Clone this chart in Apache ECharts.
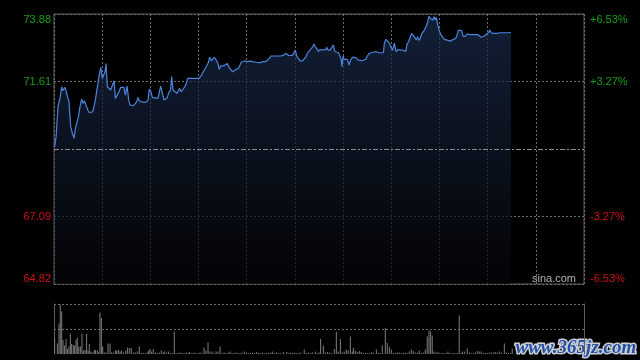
<!DOCTYPE html>
<html><head><meta charset="utf-8">
<script src="https://cdn.jsdelivr.net/npm/echarts@6/dist/echarts.min.js"></script>
<style>html,body{margin:0;padding:0;background:#000}#c{width:640px;height:360px}</style>
</head><body><div id="c"></div>
<script>
// Session minutes (HK: 0..330), price readings
const priceMinutes = [0.4,1.3,2.5,3.7,4.8,5.4,6.2,6.9,7.5,8.3,9.3,10.4,11.4,12.5,13.3,14.1,15.2,16.2,17.2,18.1,18.9,19.9,21.0,22.0,23.0,24.1,25.1,25.9,27.0,28.0,29.1,30.1,31.1,31.8,32.4,33.2,34.3,35.3,36.3,37.4,38.2,39.4,40.5,41.5,42.6,43.6,44.4,45.5,46.5,47.3,48.4,49.4,50.6,51.5,52.3,53.1,54.4,55.6,56.7,57.7,58.5,59.4,60.4,61.2,62.3,63.5,64.8,65.6,66.4,67.5,68.5,69.7,70.6,71.4,72.2,
72.6,73.3,74.1,75.3,76.6,77.4,78.2,79.1,80.3,81.6,82.4,83.2,84.1,85.3,87.0,88.6,90.3,91.5,92.6,93.6,94.8,96.1,96.9,98.0,98.8,99.8,100.9,101.9,102.9,103.8,104.8,105.8,106.9,107.9,109.0,110.0,111.2,112.3,113.3,114.8,115.6,116.6,117.7,118.9,120.2,121.0,122.2,123.5,124.7,126.0,127.2,128.3,129.3,130.5,131.8,133.0,134.1,135.1,136.8,138.8,140.9,142.8,143.8,
144.2,145.3,146.3,147.4,148.6,149.6,150.3,151.1,152.1,153.2,154.0,154.8,155.9,156.9,158.0,159.0,160.0,161.1,161.9,162.7,163.8,164.8,165.6,166.9,168.1,169.2,169.8,170.6,171.9,173.1,173.9,174.8,176.0,177.2,178.1,178.9,179.3,180.0,180.6,181.6,182.6,183.7,184.7,186.0,187.2,188.2,189.3,190.5,191.8,193.0,194.1,195.1,196.3,197.6,198.8,200.1,201.3,202.6,203.8,205.1,205.7,206.7,207.8,208.8,209.8,210.9,211.9,213.0,214.2,215.4,
215.6,216.9,218.1,219.0,219.8,220.8,221.9,222.7,223.7,224.8,225.6,226.4,227.3,228.1,228.9,229.8,230.6,231.6,232.7,233.5,234.3,235.2,235.8,236.6,237.4,238.1,238.9,239.9,241.0,242.0,243.0,244.3,245.5,246.6,247.6,248.8,250.1,250.9,251.8,253.0,253.8,254.7,255.5,256.3,257.2,258.0,259.2,260.5,262.1,263.8,265.0,265.9,266.7,268.0,269.2,270.4,271.3,272.1,272.9,274.0,275.0,275.8,276.7,277.7,278.7,280.0,281.2,282.5,283.7,284.5];
const priceValues = [69.43,69.76,70.77,71.05,71.44,71.31,71.35,71.42,71.42,71.13,70.94,70.10,69.88,69.71,70.04,70.10,70.43,70.77,71.02,70.88,70.97,70.83,70.66,70.57,70.55,70.60,70.83,71.05,71.08,71.78,72.09,71.72,71.78,71.94,72.22,71.44,71.42,71.33,71.33,71.64,71.05,70.99,71.27,71.42,71.39,71.42,71.16,71.46,70.99,70.83,70.80,70.80,70.83,70.94,71.08,70.96,70.94,70.88,70.91,70.91,70.97,71.36,71.27,71.08,71.11,71.06,71.06,71.08,71.46,71.22,70.99,71.02,71.08,71.24,71.27,
71.33,71.78,71.33,71.27,71.22,71.16,71.39,71.27,71.35,71.46,71.55,71.72,71.78,71.72,71.72,71.72,71.72,71.80,71.91,72.00,72.11,72.25,72.43,72.31,72.36,72.43,72.34,72.25,72.02,72.14,72.17,72.14,72.14,72.22,72.09,72.02,71.94,72.00,72.02,72.05,72.14,72.26,72.31,72.31,72.28,72.31,72.30,72.28,72.28,72.26,72.25,72.25,72.31,72.28,72.28,72.34,72.39,72.47,72.47,72.47,72.47,72.49,72.54,
72.56,72.56,72.48,72.50,72.50,72.56,72.67,72.47,72.39,72.31,72.25,72.31,72.36,72.45,72.58,72.65,72.67,72.78,72.87,72.78,72.73,72.62,72.69,72.67,72.67,72.69,72.76,72.67,72.67,72.69,72.84,72.62,72.58,72.58,72.54,72.34,72.11,72.47,72.36,72.36,72.36,72.17,72.34,72.43,72.48,72.41,72.34,72.31,72.31,72.34,72.36,72.47,72.56,72.58,72.62,72.62,72.59,72.58,72.58,72.58,72.90,73.03,72.99,72.90,72.76,72.67,72.90,72.62,72.69,72.73,
72.67,72.67,72.65,72.62,72.87,72.95,73.12,73.23,73.16,73.10,73.01,73.12,72.99,73.06,73.21,73.23,73.34,73.45,73.62,73.81,73.73,73.79,73.68,73.79,73.68,73.77,73.51,73.32,73.17,73.12,73.03,73.01,73.01,72.97,72.99,73.03,73.06,73.17,73.34,73.39,73.32,73.14,73.10,73.14,73.21,73.21,73.19,73.19,73.19,73.19,73.17,73.10,73.14,73.14,73.15,73.25,73.34,73.25,73.19,73.23,73.20,73.23,73.19,73.25,73.25,73.25,73.23,73.25,73.25,73.26];

const volMinutes = [0.4,2.1,3.1,3.9,4.8,5.6,6.6,7.5,8.3,9.3,10.2,11.0,12.0,12.9,13.7,14.5,15.4,16.4,17.4,18.3,19.3,20.3,21.2,22.0,23.0,24.1,25.1,25.9,27.0,27.8,28.6,29.5,30.3,31.3,32.4,33.6,34.9,35.9,36.9,38.2,39.0,40.1,41.1,42.1,43.2,44.6,45.7,46.9,48.1,49.4,50.6,51.9,53.1,54.4,55.6,56.9,58.1,58.9,59.8,60.8,61.8,63.1,64.3,65.6,66.8,68.1,68.9,70.2,71.4,72.6,73.9,74.9,76.0,77.3,78.5,79.8,81.0,82.3,83.5,84.3,85.8,87.1,88.4,89.6,90.9,92.1,93.4,94.6,95.9,97.1,98.4,99.6,100.9,102.1,103.4,104.6,105.9,107.1,108.4,109.6,110.9,112.1,113.4,114.6,115.9,117.1,118.5,119.8,121.0,122.3,123.5,124.8,126.2,127.4,128.7,129.9,131.2,132.4,133.7,134.9,135.9,137.2,138.4,139.7,140.9,142.8,144.9,146.2,147.4,148.7,149.9,151.2,152.4,153.7,155.8,157.1,158.3,159.6,160.8,162.7,163.9,165.1,
166.0,167.7,168.9,170.2,171.4,172.7,174.5,175.8,177.0,178.3,179.5,180.7,182.0,183.2,184.5,185.7,186.4,187.6,188.8,190.1,191.3,192.6,194.0,195.3,196.5,197.8,199.0,200.7,201.9,203.2,204.4,206.3,207.5,208.8,210.0,211.3,212.5,213.7,215.0,216.2,217.5,218.7,220.0,221.2,222.5,223.7,225.0,226.2,227.4,228.7,229.9,231.2,232.4,233.5,234.5,235.5,236.6,237.8,239.1,240.3,241.6,242.8,244.1,245.3,246.5,247.8,249.0,250.3,251.3,252.3,253.6,254.4,255.7,257.3,258.6,259.8,261.1,262.3,263.5,264.8,266.0,267.3,268.5,269.8,271.0,272.2,273.5,274.7,276.0,277.2,278.5,280.4,281.8,283.0,284.3,285.3];
const volValues = [33,21,61,99,85,28,17,30,10,15,41,20,18,17,28,33,15,15,41,7,8,40,7,20,5,3,8,8,7,3,83,72,15,3,3,21,21,3,3,7,7,8,5,7,3,7,13,12,12,3,3,5,15,2,2,2,3,7,10,5,10,3,2,3,7,3,5,3,5,2,2,45,2,2,3,2,2,3,2,4,2,3,2,2,3,2,13,7,23,5,5,2,5,5,15,2,3,2,3,5,2,2,3,2,2,3,5,3,2,2,3,2,4,2,2,3,2,2,3,2,5,2,3,2,2,4,4,2,3,2,3,2,2,3,9,2,3,2,3,5,2,3,
30,17,3,4,3,2,10,44,5,30,3,5,9,7,35,5,12,7,4,6,4,2,2,2,2,4,2,9,2,2,17,52,22,14,9,2,2,3,3,2,2,3,2,5,9,6,3,3,7,2,3,9,35,47,45,37,5,3,4,2,2,2,2,5,2,2,2,2,2,77,2,5,5,11,3,2,2,3,6,5,5,2,2,2,3,3,3,4,3,5,3,21,3,2,2,11];

const prevClose = 69.35;
const priceTicks = [64.82, 67.085, 69.35, 71.615, 73.88];
const leftTickLabels = ['64.82', '67.09', '', '71.61', '73.88'];
const rightTickLabels = ['-6.53%', '-3.27%', '', '+3.27%', '+6.53%'];

const GREEN = '#12a012', RED = '#d01010';
const chart = echarts.init(document.getElementById('c'));
const lblColor = (i) => (i >= 3 ? GREEN : RED);

chart.setOption({
  backgroundColor: '#000',
  animation: false,
  grid: [
    { left: 54, right: 56, top: 14, height: 270, show: true, borderColor: '#5e5e5e', borderWidth: 1, backgroundColor: 'transparent' },
    { left: 54, right: 56, top: 304, height: 50 }
  ],
  xAxis: [
    { type: 'value', gridIndex: 0, min: 0, max: 330, interval: 30,
      axisLine: { show: false }, axisTick: { show: false }, axisLabel: { show: false },
      splitLine: { show: true, lineStyle: { color: '#6e6e6e', type: [2, 2], width: 1 } } },
    { type: 'value', gridIndex: 1, min: 0, max: 330, interval: 30,
      axisLine: { show: false }, axisTick: { show: false }, axisLabel: { show: false }, splitLine: { show: false } }
  ],
  yAxis: [
    { type: 'value', gridIndex: 0, position: 'left', min: priceTicks[0], max: priceTicks[4], interval: priceTicks[1] - priceTicks[0],
      axisLine: { show: false }, axisTick: { show: false },
      axisLabel: { margin: 3, fontSize: 11, fontFamily: 'Liberation Sans, Arial, sans-serif',
        verticalAlignMaxLabel: 'top', verticalAlignMinLabel: 'bottom',
        formatter: (v, i) => leftTickLabels[i] || '',
        color: (v, i) => lblColor(i) },
      splitLine: { show: true, lineStyle: { color: ['#6e6e6e', '#6e6e6e', 'rgba(0,0,0,0)', '#6e6e6e', '#6e6e6e'], type: [2, 2], width: 1 } } },
    { type: 'value', gridIndex: 0, position: 'right', min: priceTicks[0], max: priceTicks[4], interval: priceTicks[1] - priceTicks[0],
      axisLine: { show: false }, axisTick: { show: false }, splitLine: { show: false },
      axisLabel: { margin: 6, fontSize: 11, fontFamily: 'Liberation Sans, Arial, sans-serif',
        verticalAlignMaxLabel: 'top', verticalAlignMinLabel: 'bottom',
        formatter: (v, i) => rightTickLabels[i] || '',
        color: (v, i) => lblColor(i) } },
    { type: 'value', gridIndex: 1, position: 'left', min: 0, max: 100, interval: 50,
      axisLine: { show: true, lineStyle: { color: '#5e5e5e', width: 1 } }, axisTick: { show: false }, axisLabel: { show: false },
      splitLine: { show: true, showMinLine: false, lineStyle: { color: '#6e6e6e', type: [2, 2], width: 1 } } },
    { type: 'value', gridIndex: 1, position: 'right', min: 0, max: 100, interval: 50,
      axisLine: { show: true, lineStyle: { color: '#5e5e5e', width: 1 } }, axisTick: { show: false }, axisLabel: { show: false }, splitLine: { show: false } }
  ],
  series: [
    { type: 'line', xAxisIndex: 0, yAxisIndex: 0,
      data: priceMinutes.map((m, i) => [m, priceValues[i]]),
      showSymbol: false, symbol: 'none',
      lineStyle: { color: '#4a84dc', width: 1.2 },
      areaStyle: { origin: 'start', color: new echarts.graphic.LinearGradient(0, 0, 0, 1, [
        { offset: 0, color: '#1a2c4e' }, { offset: 1, color: '#040507' }]) },
      markLine: { silent: true, symbol: ['none', 'none'], label: { show: false },
        lineStyle: { color: '#8e8e8e', type: [5, 2, 2, 2], width: 1 },
        data: [{ yAxis: prevClose }] } },
    { type: 'bar', xAxisIndex: 1, yAxisIndex: 2,
      data: volMinutes.map((m, i) => [m, volValues[i]]),
      barWidth: 1, itemStyle: { color: '#7e7e7e' } }
  ],
  graphic: [
    { type: 'text', left: 532, top: 273, silent: true,
      style: { text: 'sina.com', font: '11px "Liberation Sans", Arial, sans-serif', fill: '#b4b4b4' } },
    { type: 'text', left: 514, top: 337, silent: true,
      style: { text: 'www.365jz.com', font: 'bold italic 19px "Liberation Serif", serif', fill: '#2450a0', stroke: '#c9ced8', lineWidth: 3 } }
  ]
});
</script>
</body></html>
